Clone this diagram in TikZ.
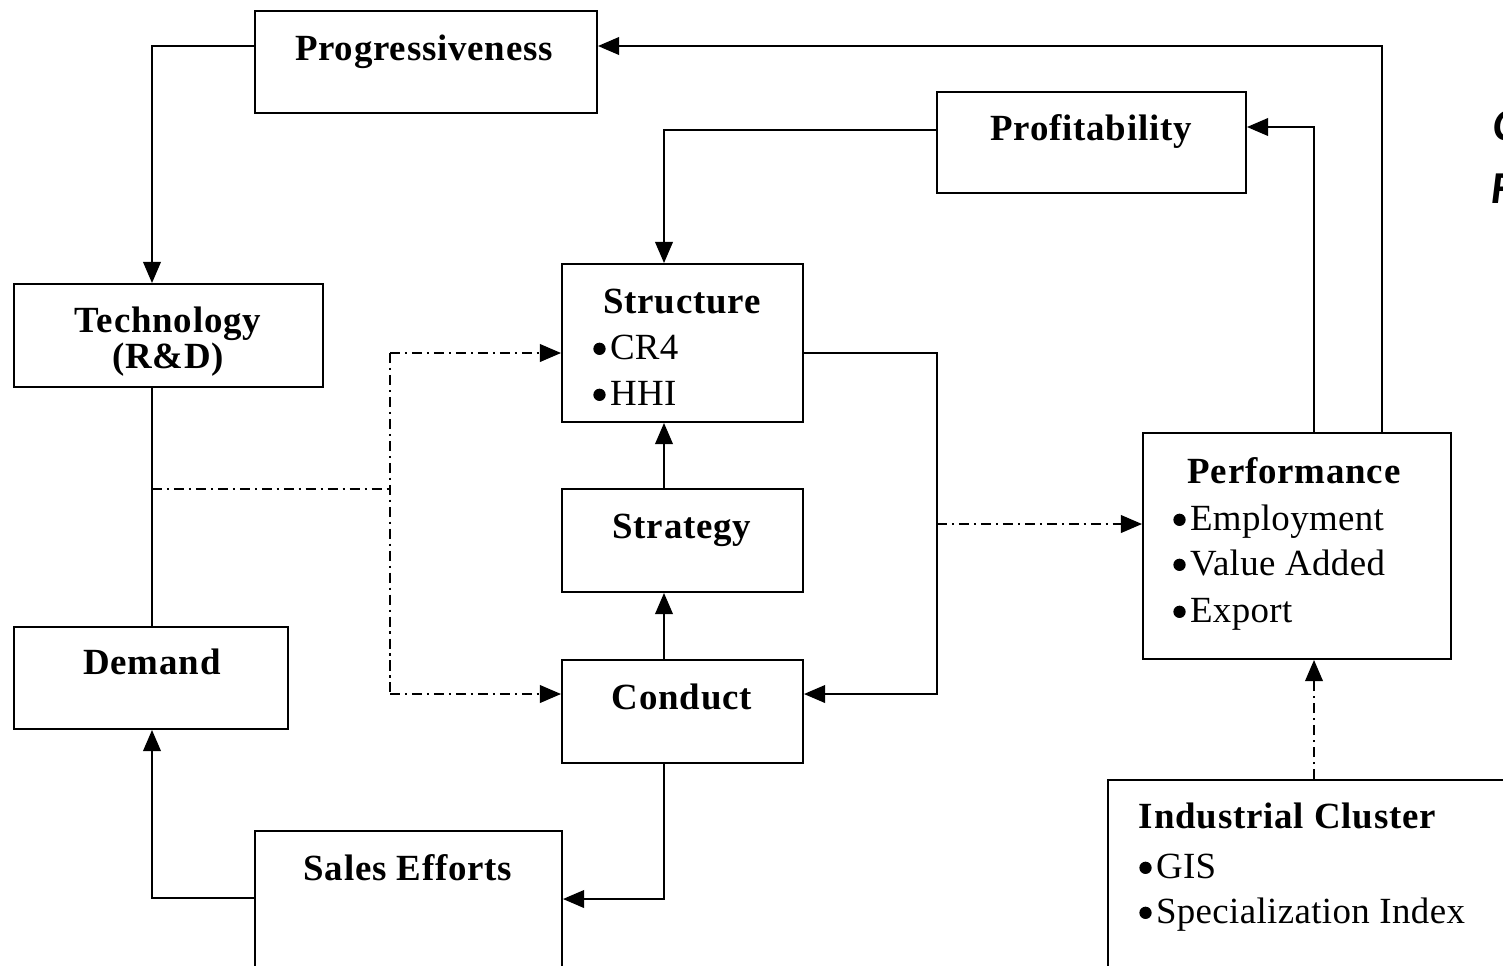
\documentclass[tikz,border=0pt]{standalone}
\usepackage{fontspec}
\setmainfont{Liberation Serif}
\newfontfamily\sidefont{Carlito}
\usetikzlibrary{arrows.meta,fit}

% round list bullet followed by a small gap
\newcommand{\bulletdot}{\tikz[baseline=-5.8pt]\fill[black] (0pt,0pt) circle[radius=3.5pt];\hspace{2.5pt}}

\begin{document}
\begin{tikzpicture}[x=0.02cm,y=-0.02cm,
  line width=1.1pt,
  box/.style={draw, rectangle, inner sep=0pt, line width=1.1pt},
  title/.style={anchor=base, inner sep=0pt, font=\fontsize{21}{25}\selectfont\bfseries\addfontfeatures{LetterSpace=2.2}},
  item/.style={anchor=base west, inner sep=0pt, font=\fontsize{21}{25}\selectfont\addfontfeatures{LetterSpace=1}},
  arr/.style={-{Triangle[length=12pt,width=10pt]}},
  dashdot/.style={dash pattern=on 5.7pt off 2.8pt on 1.2pt off 2.8pt}
]
% canvas
\fill[white] (0,0) rectangle (1503,965);
\useasboundingbox (0,0) rectangle (1503,965);

% boxes
\node[box, fit={(255,11) (597,113)}]   (prog)  {};
\node[box, fit={(937,92) (1246,193)}]  (profit) {};
\node[box, fit={(14,284) (323,387)}]   (tech)  {};
\node[box, fit={(562,264) (803,422)}]  (struct) {};
\node[box, fit={(562,489) (803,592)}]  (strat) {};
\node[box, fit={(14,627) (288,729)}]   (dem)   {};
\node[box, fit={(562,660) (803,763)}]  (cond)  {};
\node[box, fit={(1143,433) (1451,659)}] (perf) {};
\node[box, fit={(1108,780) (1540,1010)}] (clus) {};
\node[box, fit={(255,831) (562,1010)}] (sales) {};

% box texts
\node[title] (progT)   at (424,60)  {Progressiveness};
\node[title] (profitT) at (1091,140) {Profitability};
\node[title] (techT)   at (168,332) {Technology};
\node[title] (techT2)  at (168,368) {(R\&D)};
\node[title] (structT) at (682,313) {Structure};
\node[item]  (structA) at (593,359) {\bulletdot CR4};
\node[item]  (structB) at (593,405) {\bulletdot HHI};
\node[title] (stratT)  at (682,538) {Strategy};
\node[title] (demT)    at (152,674) {Demand};
\node[title] (condT)   at (682,709) {Conduct};
\node[title] (perfT)   at (1294,483) {Performance};
\node[item]  (perfA)   at (1173,530) {\bulletdot Employment};
\node[item]  (perfB)   at (1173,575) {\bulletdot Value Added};
\node[item]  (perfC)   at (1173,622) {\bulletdot Export};
\node[title, anchor=base west] (clusT) at (1138,828) {Industrial Cluster};
\node[item]  (clusA)   at (1139,878) {\bulletdot GIS};
\node[item]  (clusB)   at (1139,923) {\bulletdot Specialization Index};
\node[title] (salesT)  at (408,880) {Sales Efforts};

% heading at the right margin
\node[anchor=base west, inner sep=0pt, font=\sidefont\fontsize{26}{30}\selectfont\bfseries\itshape] (sideA) at (1493,140) {C};
\node[anchor=base west, inner sep=0pt, font=\sidefont\fontsize{26}{30}\selectfont\bfseries\itshape] (sideB) at (1491,203) {F};

% feedback loops from performance
\draw[arr] (perf.north -| 1382,0) |- (prog.east |- 0,46);
\draw[arr] (perf.north -| 1314,0) |- (profit.east |- 0,127);
\draw[arr] (profit.west |- 0,130) -| (struct.north -| 664,0);
\draw[arr] (prog.west |- 0,46) -| (tech.north -| 152,0);
\draw (tech.south -| 152,0) -- (dem.north -| 152,0);

% dash-dot links from technology/demand
\coordinate (split) at (390,489);
\draw[dashdot] (152,489) -- (split);
\draw[dashdot] (390,353) -- (390,694);
\draw[dashdot, arr] (390,353) -- (struct.west |- 0,353);
\draw[dashdot, arr] (390,694) -- (cond.west |- 0,694);

% structure - conduct - strategy
\draw[arr] (strat.north -| 664,0) -- (struct.south -| 664,0);
\draw[arr] (cond.north -| 664,0) -- (strat.south -| 664,0);
\draw[arr] (struct.east |- 0,353) -- (937,353) |- (cond.east |- 0,694);
\draw[dashdot, arr] (937,524) -- (perf.west |- 0,524);

% cluster to performance
\draw[dashdot, arr] (clus.north -| 1314,0) -- (perf.south -| 1314,0);

% conduct to sales efforts to demand
\draw[arr] (cond.south -| 664,0) |- (sales.east |- 0,899);
\draw[arr] (sales.west |- 0,898) -| (dem.south -| 152,0);
\end{tikzpicture}
\end{document}
